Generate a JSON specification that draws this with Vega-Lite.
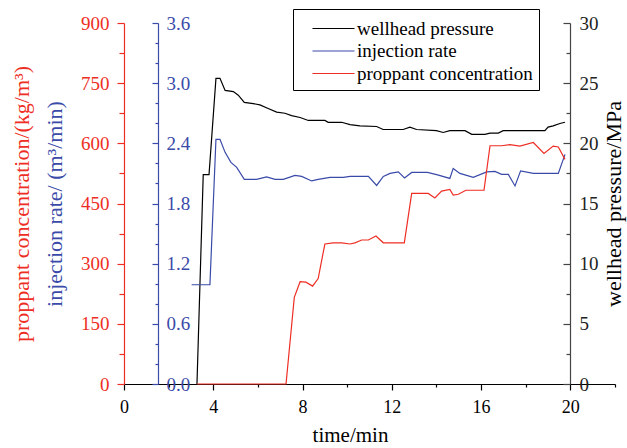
{
  "$schema": "https://vega.github.io/schema/vega-lite/v6.json",
  "width": 491,
  "height": 361,
  "autosize": "none",
  "padding": {"left": 124, "top": 23, "right": 12, "bottom": 64},
  "background": "white",
  "config": {
    "view": {"stroke": null},
    "font": "Liberation Serif",
    "axis": {
      "labelOverlap": false,
      "labelFlush": false,
      "grid": false,
      "domainWidth": 1.2,
      "tickWidth": 1.2
    }
  },
  "datasets": {
    "pressure": [
      {"time": 3.27, "value": 0, "series": "wellhead pressure"},
      {"time": 3.55, "value": 17.4, "series": "wellhead pressure"},
      {"time": 3.81, "value": 17.4, "series": "wellhead pressure"},
      {"time": 4.12, "value": 25.4, "series": "wellhead pressure"},
      {"time": 4.3, "value": 25.4, "series": "wellhead pressure"},
      {"time": 4.53, "value": 24.4, "series": "wellhead pressure"},
      {"time": 4.9, "value": 24.3, "series": "wellhead pressure"},
      {"time": 5.12, "value": 24.0, "series": "wellhead pressure"},
      {"time": 5.39, "value": 23.4, "series": "wellhead pressure"},
      {"time": 5.79, "value": 23.3, "series": "wellhead pressure"},
      {"time": 6.09, "value": 23.2, "series": "wellhead pressure"},
      {"time": 6.46, "value": 22.9, "series": "wellhead pressure"},
      {"time": 6.84, "value": 22.6, "series": "wellhead pressure"},
      {"time": 7.21, "value": 22.5, "series": "wellhead pressure"},
      {"time": 7.51, "value": 22.3, "series": "wellhead pressure"},
      {"time": 7.89, "value": 22.15, "series": "wellhead pressure"},
      {"time": 8.26, "value": 21.9, "series": "wellhead pressure"},
      {"time": 9.0, "value": 21.9, "series": "wellhead pressure"},
      {"time": 9.15, "value": 21.75, "series": "wellhead pressure"},
      {"time": 9.75, "value": 21.75, "series": "wellhead pressure"},
      {"time": 10.13, "value": 21.55, "series": "wellhead pressure"},
      {"time": 10.57, "value": 21.45, "series": "wellhead pressure"},
      {"time": 11.32, "value": 21.4, "series": "wellhead pressure"},
      {"time": 11.61, "value": 21.15, "series": "wellhead pressure"},
      {"time": 12.51, "value": 21.15, "series": "wellhead pressure"},
      {"time": 12.81, "value": 21.35, "series": "wellhead pressure"},
      {"time": 13.11, "value": 21.15, "series": "wellhead pressure"},
      {"time": 14.0, "value": 21.05, "series": "wellhead pressure"},
      {"time": 14.3, "value": 20.9, "series": "wellhead pressure"},
      {"time": 14.6, "value": 21.05, "series": "wellhead pressure"},
      {"time": 15.28, "value": 21.05, "series": "wellhead pressure"},
      {"time": 15.58, "value": 20.75, "series": "wellhead pressure"},
      {"time": 16.17, "value": 20.75, "series": "wellhead pressure"},
      {"time": 16.4, "value": 20.85, "series": "wellhead pressure"},
      {"time": 16.77, "value": 20.85, "series": "wellhead pressure"},
      {"time": 16.99, "value": 21.05, "series": "wellhead pressure"},
      {"time": 18.86, "value": 21.05, "series": "wellhead pressure"},
      {"time": 19.0, "value": 21.35, "series": "wellhead pressure"},
      {"time": 19.23, "value": 21.45, "series": "wellhead pressure"},
      {"time": 19.53, "value": 21.65, "series": "wellhead pressure"},
      {"time": 19.76, "value": 21.75, "series": "wellhead pressure"}
    ],
    "rate": [
      {"time": 3.03, "value": 0.99, "series": "injection rate"},
      {"time": 3.85, "value": 0.99, "series": "injection rate"},
      {"time": 4.12, "value": 2.44, "series": "injection rate"},
      {"time": 4.3, "value": 2.44, "series": "injection rate"},
      {"time": 4.53, "value": 2.31, "series": "injection rate"},
      {"time": 4.79, "value": 2.21, "series": "injection rate"},
      {"time": 5.05, "value": 2.16, "series": "injection rate"},
      {"time": 5.39, "value": 2.04, "series": "injection rate"},
      {"time": 5.94, "value": 2.04, "series": "injection rate"},
      {"time": 6.39, "value": 2.065, "series": "injection rate"},
      {"time": 6.77, "value": 2.04, "series": "injection rate"},
      {"time": 7.14, "value": 2.04, "series": "injection rate"},
      {"time": 7.66, "value": 2.08, "series": "injection rate"},
      {"time": 7.96, "value": 2.07, "series": "injection rate"},
      {"time": 8.41, "value": 2.025, "series": "injection rate"},
      {"time": 8.7, "value": 2.04, "series": "injection rate"},
      {"time": 9.23, "value": 2.06, "series": "injection rate"},
      {"time": 9.83, "value": 2.06, "series": "injection rate"},
      {"time": 10.13, "value": 2.07, "series": "injection rate"},
      {"time": 10.95, "value": 2.07, "series": "injection rate"},
      {"time": 11.32, "value": 1.98, "series": "injection rate"},
      {"time": 11.62, "value": 2.07, "series": "injection rate"},
      {"time": 11.92, "value": 2.1, "series": "injection rate"},
      {"time": 12.29, "value": 2.115, "series": "injection rate"},
      {"time": 12.57, "value": 2.055, "series": "injection rate"},
      {"time": 12.89, "value": 2.11, "series": "injection rate"},
      {"time": 13.6, "value": 2.11, "series": "injection rate"},
      {"time": 14.05, "value": 2.085, "series": "injection rate"},
      {"time": 14.6, "value": 2.05, "series": "injection rate"},
      {"time": 14.75, "value": 2.15, "series": "injection rate"},
      {"time": 15.05, "value": 2.1, "series": "injection rate"},
      {"time": 15.65, "value": 2.06, "series": "injection rate"},
      {"time": 16.25, "value": 2.115, "series": "injection rate"},
      {"time": 16.62, "value": 2.12, "series": "injection rate"},
      {"time": 16.92, "value": 2.09, "series": "injection rate"},
      {"time": 17.22, "value": 2.09, "series": "injection rate"},
      {"time": 17.52, "value": 1.975, "series": "injection rate"},
      {"time": 17.77, "value": 2.125, "series": "injection rate"},
      {"time": 18.34, "value": 2.1, "series": "injection rate"},
      {"time": 19.46, "value": 2.1, "series": "injection rate"},
      {"time": 19.76, "value": 2.29, "series": "injection rate"}
    ],
    "conc": [
      {"time": 3.27, "value": 0, "series": "proppant concentration"},
      {"time": 7.26, "value": 0, "series": "proppant concentration"},
      {"time": 7.63, "value": 216, "series": "proppant concentration"},
      {"time": 7.89, "value": 255, "series": "proppant concentration"},
      {"time": 8.15, "value": 254, "series": "proppant concentration"},
      {"time": 8.45, "value": 244, "series": "proppant concentration"},
      {"time": 8.7, "value": 263, "series": "proppant concentration"},
      {"time": 9.0, "value": 349, "series": "proppant concentration"},
      {"time": 9.38, "value": 352, "series": "proppant concentration"},
      {"time": 9.75, "value": 352, "series": "proppant concentration"},
      {"time": 10.13, "value": 349, "series": "proppant concentration"},
      {"time": 10.35, "value": 352, "series": "proppant concentration"},
      {"time": 10.65, "value": 359, "series": "proppant concentration"},
      {"time": 10.95, "value": 359, "series": "proppant concentration"},
      {"time": 11.29, "value": 369, "series": "proppant concentration"},
      {"time": 11.62, "value": 352, "series": "proppant concentration"},
      {"time": 12.56, "value": 352, "series": "proppant concentration"},
      {"time": 12.89, "value": 475, "series": "proppant concentration"},
      {"time": 13.63, "value": 475, "series": "proppant concentration"},
      {"time": 13.93, "value": 464, "series": "proppant concentration"},
      {"time": 14.23, "value": 481, "series": "proppant concentration"},
      {"time": 14.6, "value": 485, "series": "proppant concentration"},
      {"time": 14.75, "value": 471, "series": "proppant concentration"},
      {"time": 14.98, "value": 473, "series": "proppant concentration"},
      {"time": 15.32, "value": 483, "series": "proppant concentration"},
      {"time": 16.13, "value": 483, "series": "proppant concentration"},
      {"time": 16.4, "value": 594, "series": "proppant concentration"},
      {"time": 16.92, "value": 594, "series": "proppant concentration"},
      {"time": 17.29, "value": 597, "series": "proppant concentration"},
      {"time": 17.74, "value": 593, "series": "proppant concentration"},
      {"time": 18.34, "value": 602, "series": "proppant concentration"},
      {"time": 18.82, "value": 575, "series": "proppant concentration"},
      {"time": 19.23, "value": 593, "series": "proppant concentration"},
      {"time": 19.46, "value": 591, "series": "proppant concentration"},
      {"time": 19.76, "value": 560, "series": "proppant concentration"}
    ]
  },
  "encoding": {
    "x": {
      "field": "time",
      "type": "quantitative",
      "scale": {"domain": [0, 22], "nice": false, "zero": false},
      "axis": {
        "values": [0, 2, 4, 6, 8, 10, 12, 14, 16, 18, 20, 22],
        "labelExpr": "datum.value % 4 === 0 && datum.value <= 20 ? datum.label : ''",
        "tickSize": {"condition": {"test": "datum.value % 4 === 0", "value": 6}, "value": 3},
        "labelPadding": 8,
        "labelFont": "Liberation Serif",
        "labelFontSize": 18,
        "labelColor": "black",
        "domainColor": "black",
        "tickColor": "black",
        "title": "time/min",
        "titleFont": "Liberation Serif",
        "titleFontWeight": "normal",
        "titleFontSize": 21,
        "titleColor": "black",
        "titleX": 226,
        "titleY": 57,
        "titleAlign": "center",
        "titleBaseline": "alphabetic",
        "encode": {
          "labels": {"update": {"font": {"value": "Liberation Serif"}, "fontWeight": {"value": "normal"}}},
          "title": {"update": {"font": {"value": "Liberation Serif"}, "fontWeight": {"value": "normal"}}}
        }
      }
    },
    "color": {
      "field": "series",
      "type": "nominal",
      "scale": {
        "domain": ["wellhead pressure", "injection rate", "proppant concentration"],
        "range": ["#000000", "#3a4aa8", "#ee2e24"]
      },
      "legend": {
        "title": " ",
        "titleFontSize": 1,
        "titlePadding": 3,
        "orient": "none",
        "legendX": 169,
        "legendY": -14,
        "direction": "vertical",
        "padding": 6,
        "strokeColor": "black",
        "fillColor": "white",
        "labelFont": "Liberation Serif",
        "labelFontSize": 19,
        "labelColor": "black",
        "labelLimit": 400,
        "symbolType": "M-3,0H3",
        "symbolSize": 196,
        "symbolStrokeWidth": 1.2,
        "symbolOffset": 25,
        "labelOffset": 14,
        "rowPadding": 2.5
      }
    }
  },
  "layer": [
    {
      "data": {"name": "pressure"},
      "mark": {"type": "line", "strokeWidth": 1.2},
      "encoding": {
        "y": {
          "field": "value",
          "type": "quantitative",
          "scale": {"domain": [0, 30], "nice": false},
          "axis": {
            "orient": "right",
            "offset": -45,
            "values": [0, 2.5, 5, 7.5, 10, 12.5, 15, 17.5, 20, 22.5, 25, 27.5, 30],
            "labelExpr": "datum.value % 5 === 0 ? datum.label : ''",
            "tickSize": {"condition": {"test": "datum.value % 5 === 0", "value": -7}, "value": -4},
            "labelPadding": 16,
            "labelFont": "Liberation Serif",
            "labelFontSize": 19,
            "labelColor": "#222222",
            "domainColor": "#444444",
            "tickColor": "#444444",
            "title": "wellhead pressure/MPa",
            "titleFont": "Liberation Serif",
            "titleFontWeight": "normal",
            "titleFontSize": 22,
            "titleColor": "black",
            "titleAngle": 270,
            "titleX": 50,
            "titleBaseline": "alphabetic",
            "encode": {
              "labels": {"update": {"font": {"value": "Liberation Serif"}, "fontWeight": {"value": "normal"}}},
              "title": {"update": {"font": {"value": "Liberation Serif"}, "fontWeight": {"value": "normal"}}}
            }
          }
        }
      }
    },
    {
      "data": {"name": "rate"},
      "mark": {"type": "line", "strokeWidth": 1.2},
      "encoding": {
        "y": {
          "field": "value",
          "type": "quantitative",
          "scale": {"domain": [0, 3.6], "nice": false},
          "axis": {
            "orient": "left",
            "offset": -34,
            "values": [0, 0.2, 0.4, 0.6, 0.8, 1.0, 1.2, 1.4, 1.6, 1.8, 2.0, 2.2, 2.4, 2.6, 2.8, 3.0, 3.2, 3.4, 3.6],
            "format": ".1f",
            "labelExpr": "round(datum.value * 10) % 6 === 0 ? datum.label : ''",
            "tickSize": {"condition": {"test": "round(datum.value * 10) % 6 === 0", "value": 6}, "value": 3},
            "labelPadding": -14,
            "labelAlign": "left",
            "labelFont": "Liberation Serif",
            "labelFontSize": 19,
            "labelColor": "#3a4aa8",
            "domainColor": "#3a4aa8",
            "tickColor": "#3a4aa8",
            "title": "injection rate/ (m³/min)",
            "titleFont": "Liberation Serif",
            "titleFontWeight": "normal",
            "titleFontSize": 22,
            "titleColor": "#3a4aa8",
            "titleX": -97,
            "titleBaseline": "alphabetic",
            "encode": {
              "labels": {"update": {"font": {"value": "Liberation Serif"}, "fontWeight": {"value": "normal"}}},
              "title": {"update": {"font": {"value": "Liberation Serif"}, "fontWeight": {"value": "normal"}}}
            }
          }
        }
      }
    },
    {
      "data": {"name": "conc"},
      "mark": {"type": "line", "strokeWidth": 1.2},
      "encoding": {
        "y": {
          "field": "value",
          "type": "quantitative",
          "scale": {"domain": [0, 900], "nice": false},
          "axis": {
            "orient": "left",
            "offset": 0,
            "values": [0, 75, 150, 225, 300, 375, 450, 525, 600, 675, 750, 825, 900],
            "labelExpr": "datum.value % 150 === 0 ? datum.label : ''",
            "tickSize": {"condition": {"test": "datum.value % 150 === 0", "value": 7}, "value": 5},
            "labelPadding": 8,
            "labelFont": "Liberation Serif",
            "labelFontSize": 19,
            "labelColor": "#ee2e24",
            "domainColor": "#ee2e24",
            "tickColor": "#ee2e24",
            "title": "proppant concentration/(kg/m³)",
            "titleFont": "Liberation Serif",
            "titleFontWeight": "normal",
            "titleFontSize": 22,
            "titleColor": "#ee2e24",
            "titleX": -96,
            "titleBaseline": "alphabetic",
            "encode": {
              "labels": {"update": {"font": {"value": "Liberation Serif"}, "fontWeight": {"value": "normal"}}},
              "title": {"update": {"font": {"value": "Liberation Serif"}, "fontWeight": {"value": "normal"}}}
            }
          }
        }
      }
    }
  ],
  "resolve": {"scale": {"y": "independent"}, "axis": {"y": "independent"}}
}
